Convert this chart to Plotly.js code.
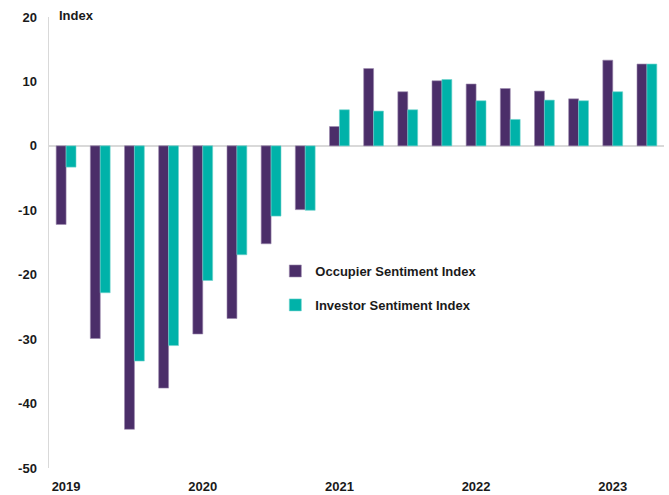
<!DOCTYPE html>
<html><head><meta charset="utf-8">
<script src="https://cdn.plot.ly/plotly-3.0.1.min.js"></script>
<style>html,body{margin:0;padding:0;background:#fff}#chart{width:669px;height:495px}</style>
</head><body><div id="chart"></div>
<script>
const quarters = ["2019 Q1","2019 Q2","2019 Q3","2019 Q4","2020 Q1","2020 Q2","2020 Q3","2020 Q4","2021 Q1","2021 Q2","2021 Q3","2021 Q4","2022 Q1","2022 Q2","2022 Q3","2022 Q4","2023 Q1","2023 Q2"];
const occupier = [-12.2,-29.9,-44.0,-37.6,-29.2,-26.8,-15.2,-9.9,3.0,12.0,8.4,10.1,9.6,8.9,8.5,7.3,13.3,12.7];
const investor = [-3.3,-22.8,-33.4,-31.0,-20.9,-16.9,-10.9,-10.0,5.6,5.4,5.6,10.3,7.0,4.1,7.1,7.0,8.4,12.7];
const tickQuarters = ["2019 Q1","2020 Q1","2021 Q1","2022 Q1","2023 Q1"];
const tickYears = ["2019","2020","2021","2022","2023"];
const yTickVals = [-50,-40,-30,-20,-10,0,10,20];
const yTickText = ["-50","-40","-30","-20","-10","0","10","20"];

const font = {family: "Liberation Sans, Arial, sans-serif", size: 13, color: "#1a1a1a", weight: "bold"};

const traces = [
  {type:"bar", name:"Occupier Sentiment Index", x:quarters, y:occupier, legendgroup:"a",
   marker:{color:"#4B2E69", line:{color:"#9a88ad", width:0.6}}},
  {type:"bar", name:"Investor Sentiment Index", x:quarters, y:investor, legendgroup:"b",
   marker:{color:"#00B2A9", line:{color:"#6fd3cd", width:0.6}}}
];

const layout = {
  width:669, height:495,
  margin:{l:49, r:5, t:17, b:27, pad:0},
  paper_bgcolor:"#fff", plot_bgcolor:"#fff",
  font: font,
  barmode:"group", bargap:0.42, bargroupgap:0,
  showlegend:true,
  legend:{x:0.368, y:0.47, xanchor:"left", yanchor:"top", bgcolor:"rgba(0,0,0,0)",
          font:{family:font.family, size:13, color:"#1a1a1a", weight:"bold"},
          tracegroupgap:14, itemwidth:30},
  xaxis:{type:"category", tickvals:tickQuarters, ticktext:tickYears, showgrid:false,
         showline:false, zeroline:false, ticks:"", range:[-0.5,17.5], ticklabelstandoff:9,
         tickfont:{family:font.family, size:13, color:"#1a1a1a", weight:"bold"}},
  yaxis:{range:[-50,20], tickvals:yTickVals, ticktext:yTickText, showgrid:false, showline:true, linecolor:"#d9d9d9", linewidth:1.5,
         zeroline:true, zerolinecolor:"#d9d9d9", zerolinewidth:1.5, ticks:"", ticklabelstandoff:8,
         tickfont:{family:font.family, size:13, color:"#1a1a1a", weight:"bold"}},
  annotations:[{text:"Index", xref:"paper", yref:"paper", x:0.013, y:1.003, xanchor:"left", yanchor:"middle",
                showarrow:false, font:{family:font.family, size:13, color:"#1a1a1a", weight:"bold"}}]
};

Plotly.newPlot("chart", traces, layout, {displayModeBar:false, staticPlot:true});
</script></body></html>
